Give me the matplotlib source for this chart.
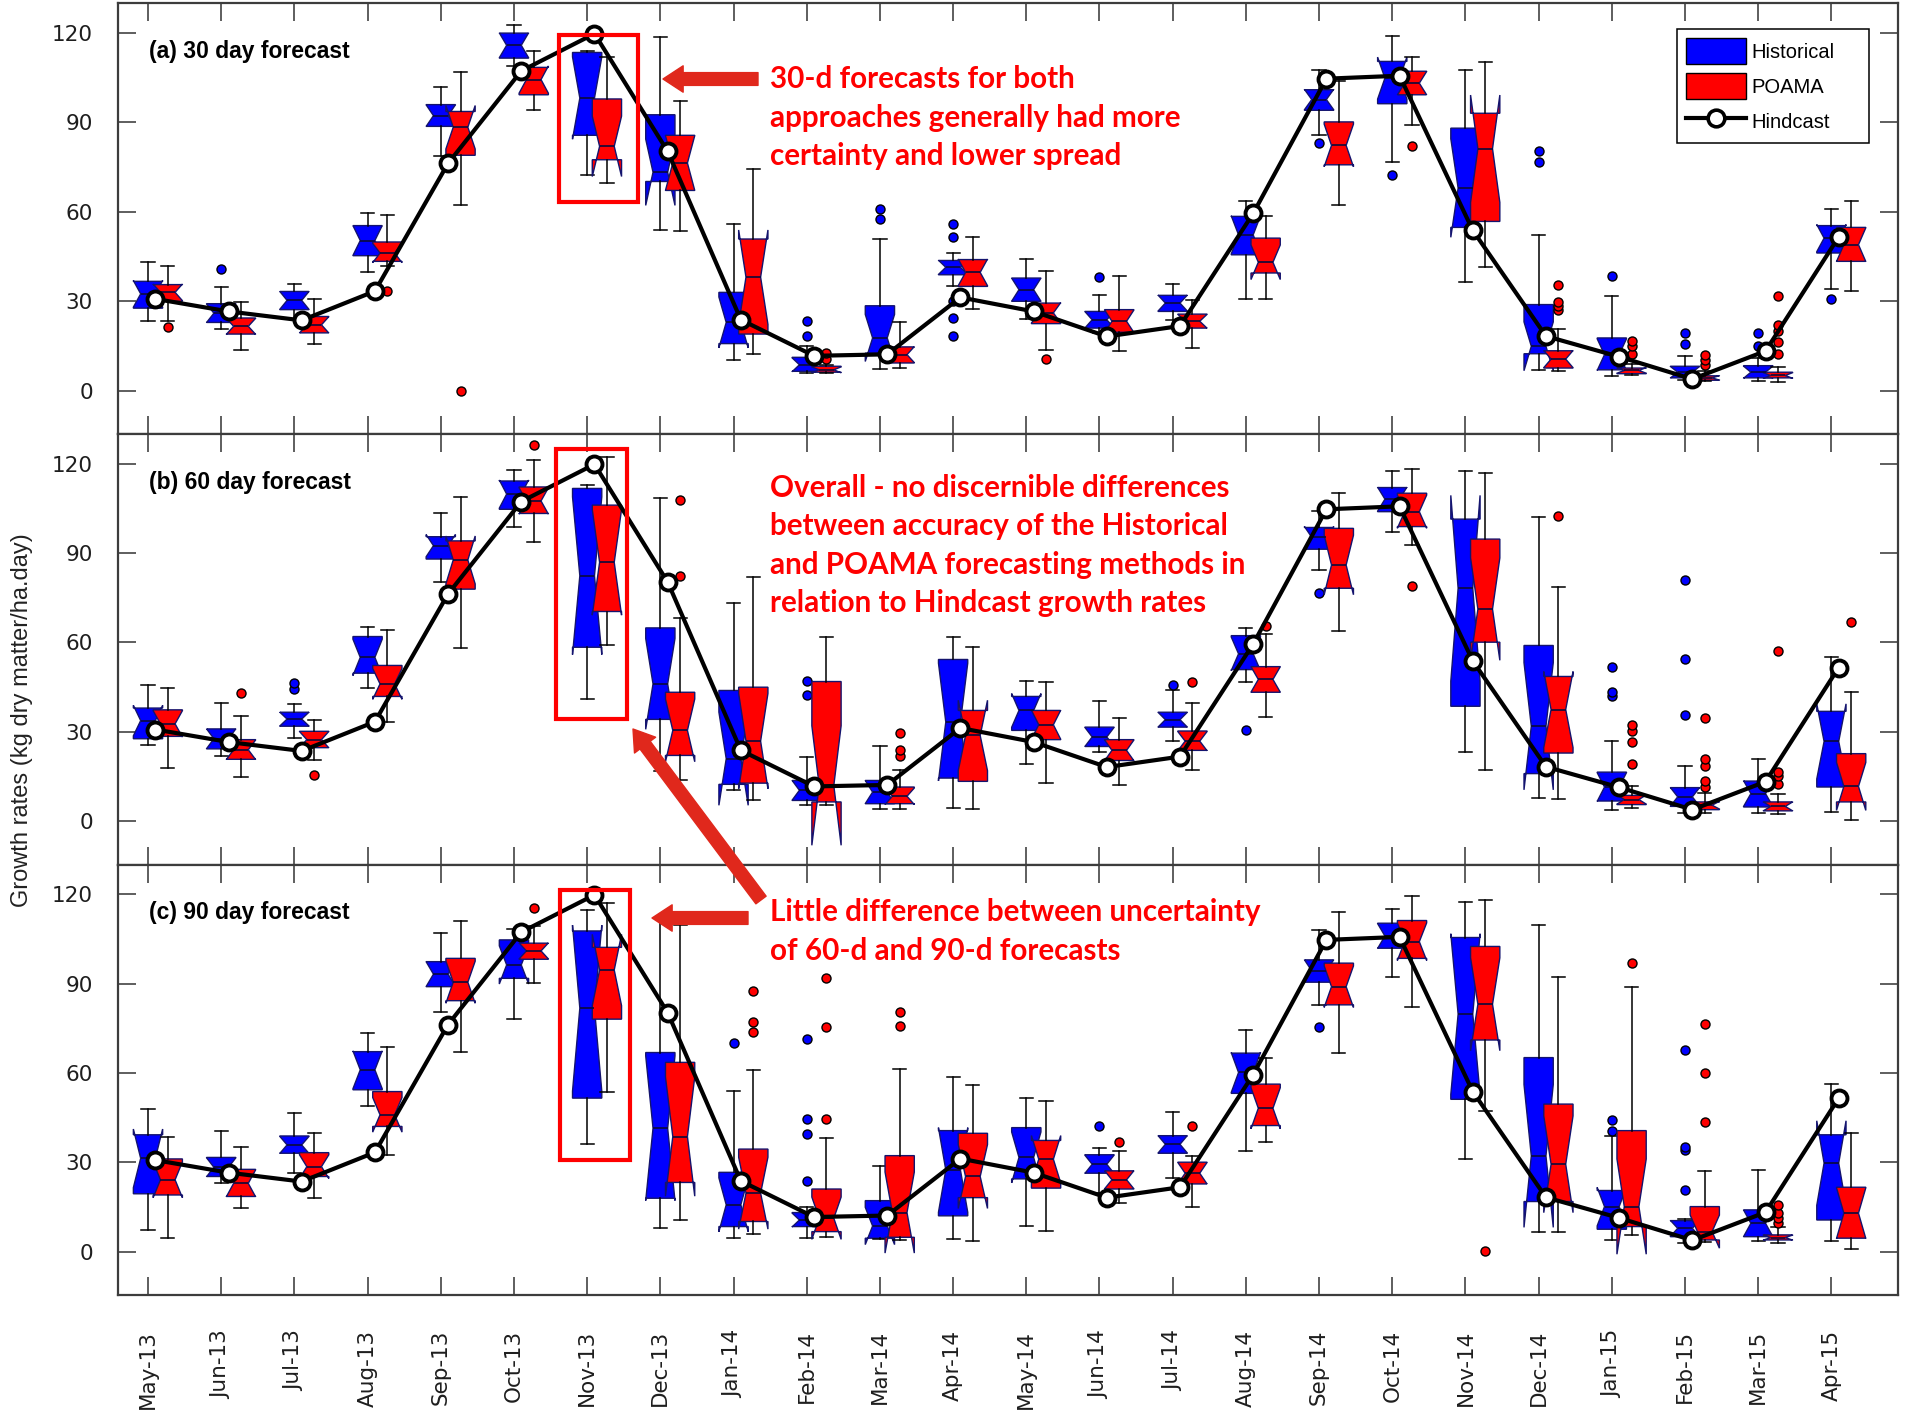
import numpy as np
import matplotlib
matplotlib.use("Agg")
import matplotlib.pyplot as plt
from matplotlib.patches import Patch, Rectangle, FancyArrowPatch
from matplotlib.lines import Line2D

# ---------------------------------------------------------------- data
months = ["May-13", "Jun-13", "Jul-13", "Aug-13", "Sep-13", "Oct-13", "Nov-13",
          "Dec-13", "Jan-14", "Feb-14", "Mar-14", "Apr-14", "May-14", "Jun-14",
          "Jul-14", "Aug-14", "Sep-14", "Oct-14", "Nov-14", "Dec-14", "Jan-15",
          "Feb-15", "Mar-15", "Apr-15"]

hindcast = [30.8, 26.6, 23.6, 33.4, 76.3, 107.3, 119.8, 80.3, 23.8, 11.7, 12.2, 31.3,
            26.6, 18.2, 21.7, 59.5, 104.7, 105.7, 53.8, 18.3, 11.4, 3.9, 13.3, 51.6]

# five-number summaries per month: [lower whisker, Q1, median, Q3, upper whisker]
hist_30 = [[23.3, 27.7, 32.5, 36.7, 43.1], [20.7, 22.9, 26.0, 29.2, 34.7], [24.0, 27.2, 30.3, 33.3, 35.9],
           [39.7, 45.3, 50.4, 55.4, 59.6], [78.9, 88.7, 92.3, 96.0, 101.8], [109.0, 111.6, 115.9, 120.0, 122.6],
           [72.5, 85.7, 98.2, 113.5, 114.0], [54.0, 70.2, 73.3, 92.6, 118.6], [10.4, 15.8, 22.9, 33.0, 56.0],
           [5.9, 6.5, 8.7, 11.2, 14.9], [7.3, 12.6, 17.7, 28.5, 50.9], [35.0, 38.9, 41.4, 43.7, 46.2],
           [24.0, 30.0, 33.9, 37.8, 44.2], [19.4, 21.0, 23.8, 26.6, 32.2], [23.8, 26.6, 29.4, 32.0, 35.8],
           [30.8, 45.6, 52.3, 58.5, 63.5], [85.9, 94.1, 97.7, 101.0, 107.5], [76.6, 96.3, 104.9, 110.5, 119.1],
           [36.5, 54.8, 68.0, 88.1, 107.5], [7.0, 12.4, 14.9, 28.9, 52.3], [4.8, 7.0, 12.1, 17.7, 31.7],
           [3.7, 4.3, 6.2, 8.2, 11.5], [3.1, 4.3, 6.2, 8.4, 11.0], [34.1, 46.2, 51.2, 55.4, 61.1]]
poama_30 = [[23.3, 30.0, 33.0, 35.6, 41.7], [13.5, 19.0, 21.6, 24.4, 29.8], [15.8, 19.4, 22.1, 24.9, 30.8],
            [41.7, 43.4, 46.2, 49.9, 58.8], [62.2, 79.0, 88.4, 93.7, 107.0], [94.3, 99.3, 104.4, 108.5, 113.9],
            [69.7, 77.5, 82.0, 97.9, 111.9], [53.5, 67.2, 76.4, 85.7, 97.1], [12.4, 19.0, 38.1, 50.9, 74.5],
            [6.0, 6.2, 7.0, 8.2, 8.6], [7.6, 9.3, 12.1, 14.7, 22.9], [27.4, 35.0, 39.7, 44.0, 51.5],
            [13.8, 22.5, 26.1, 29.4, 40.3], [13.2, 19.6, 23.3, 27.2, 38.4], [14.3, 21.0, 23.3, 25.7, 30.5],
            [30.9, 39.5, 43.1, 51.2, 58.5], [62.2, 75.8, 82.3, 90.2, 104.0], [89.0, 99.3, 103.2, 107.2, 111.9],
            [41.5, 56.8, 81.2, 93.1, 110.2], [6.5, 7.6, 10.6, 13.4, 20.8], [5.4, 5.7, 6.8, 7.6, 9.0],
            [3.3, 3.5, 4.3, 5.0, 6.5], [2.8, 4.3, 5.1, 6.2, 7.9], [33.3, 43.4, 49.0, 54.8, 63.5]]

hist_60 = [[25.5, 27.7, 33.8, 38.0, 45.6], [21.8, 24.3, 27.7, 31.0, 39.8], [28.0, 31.9, 34.3, 36.6, 39.4],
           [44.8, 49.7, 55.0, 62.0, 65.3], [80.2, 88.0, 92.5, 95.5, 103.4], [98.8, 104.7, 109.8, 114.2, 117.8],
           [41.1, 58.4, 82.4, 111.7, 113.0], [16.9, 34.2, 46.1, 64.9, 108.4], [10.4, 12.4, 21.0, 43.9, 73.3],
           [5.4, 7.0, 10.4, 13.7, 21.6], [4.2, 5.9, 9.8, 13.7, 25.1], [4.5, 14.5, 33.3, 54.3, 61.8],
           [19.3, 30.5, 37.2, 41.9, 47.0], [23.2, 25.1, 28.3, 31.6, 40.5], [27.1, 31.6, 34.1, 36.6, 43.9],
           [46.7, 50.9, 56.2, 62.3, 65.0], [84.3, 91.3, 95.3, 98.6, 104.0], [97.2, 103.9, 108.1, 112.0, 117.6],
           [23.2, 38.6, 78.2, 101.4, 117.6], [7.9, 16.0, 31.9, 59.0, 102.0], [3.9, 6.8, 11.5, 16.5, 26.9],
           [2.8, 5.0, 8.2, 11.3, 18.4], [2.9, 4.8, 9.3, 13.5, 20.8], [3.1, 11.5, 26.8, 36.9, 55.3]]
poama_60 = [[18.0, 28.5, 32.7, 37.4, 44.7], [14.9, 20.8, 24.0, 27.4, 35.3], [20.7, 24.7, 27.4, 30.2, 34.1],
            [33.3, 41.9, 46.1, 52.3, 64.2], [58.2, 77.9, 87.7, 94.1, 108.7], [93.8, 103.3, 107.5, 112.2, 121.3],
            [59.3, 70.4, 86.9, 106.1, 122.3], [13.7, 22.1, 30.5, 43.3, 68.1], [7.0, 12.8, 26.9, 45.0, 82.1],
            [5.4, 6.5, 12.0, 46.9, 61.8], [4.2, 5.9, 8.4, 11.5, 17.1], [4.2, 13.4, 28.8, 37.2, 58.6],
            [12.8, 27.4, 32.4, 37.2, 46.9], [12.1, 20.4, 23.8, 27.4, 34.6], [17.1, 23.8, 26.9, 30.3, 39.6],
            [35.0, 43.3, 47.6, 51.9, 62.9], [63.8, 78.2, 86.0, 98.3, 110.3], [92.8, 98.9, 103.9, 110.1, 118.1],
            [17.3, 60.1, 71.2, 94.7, 117.0], [7.6, 22.9, 37.5, 48.6, 78.5], [4.6, 5.6, 7.3, 8.7, 11.7],
            [2.8, 3.9, 5.4, 6.5, 9.5], [2.6, 3.5, 5.0, 6.5, 9.0], [0.6, 6.5, 11.7, 22.7, 43.3]]

hist_90 = [[7.2, 19.5, 31.4, 39.3, 48.0], [23.0, 25.3, 28.4, 31.7, 40.7], [26.4, 33.1, 35.9, 38.9, 46.5],
           [48.8, 54.4, 61.1, 67.2, 73.4], [80.6, 89.0, 93.2, 97.4, 106.9], [78.1, 91.8, 96.3, 104.7, 108.4],
           [36.2, 51.6, 81.8, 107.7, 114.8], [7.9, 18.0, 41.5, 66.9, 112.0], [4.8, 8.5, 15.8, 26.7, 54.1],
           [4.8, 8.5, 10.7, 13.2, 15.2], [4.3, 4.6, 8.7, 17.2, 28.9], [4.3, 12.1, 27.5, 40.7, 58.6],
           [8.7, 24.5, 31.7, 41.7, 51.6], [19.7, 26.4, 29.4, 32.6, 35.0], [24.7, 33.1, 36.1, 39.0, 46.8],
           [33.7, 53.2, 60.2, 66.7, 74.5], [82.9, 90.5, 94.3, 98.0, 108.0], [92.1, 101.9, 106.0, 110.3, 115.0],
           [31.2, 51.2, 79.8, 105.5, 117.3], [6.8, 16.9, 32.2, 65.2, 109.7], [4.0, 7.6, 15.2, 20.6, 38.9],
           [3.1, 5.1, 7.9, 10.5, 11.0], [3.5, 5.1, 9.6, 14.1, 27.5], [3.5, 10.7, 29.8, 39.3, 56.3]]
poama_90 = [[4.6, 19.1, 24.2, 31.2, 38.4], [14.7, 18.6, 23.0, 27.7, 35.1], [18.0, 25.3, 28.6, 33.3, 39.8],
            [32.6, 42.1, 46.0, 53.8, 68.9], [67.2, 84.3, 90.5, 98.5, 111.1], [90.4, 98.2, 101.0, 103.6, 109.2],
            [53.5, 78.1, 94.6, 102.2, 117.0], [10.7, 23.3, 38.7, 63.6, 109.7], [6.0, 10.2, 19.7, 34.5, 60.9],
            [5.1, 6.8, 11.3, 21.1, 38.1], [4.0, 4.9, 13.2, 32.3, 61.4], [3.7, 18.2, 25.3, 39.8, 56.0],
            [7.0, 21.4, 31.1, 37.4, 50.7], [16.3, 21.1, 24.2, 27.2, 34.0], [15.2, 22.8, 26.4, 30.1, 32.2],
            [37.0, 42.4, 48.2, 56.3, 65.2], [66.9, 82.9, 89.0, 96.9, 113.9], [82.3, 98.5, 104.1, 111.2, 119.5],
            [47.4, 71.1, 83.1, 102.5, 118.1], [6.6, 16.9, 29.4, 49.6, 92.4], [5.7, 8.5, 15.2, 40.7, 89.0],
            [3.4, 4.0, 6.8, 15.2, 27.2], [2.9, 4.0, 4.8, 5.7, 8.5], [0.9, 4.6, 13.0, 21.7, 40.0]]

# outlying values, keyed by month
hist_30_out = {"Jun-13": [40.8], "Feb-14": [18.5, 23.3], "Mar-14": [57.7, 61.0],
               "Apr-14": [51.6, 56.0, 30.0, 24.4, 18.5], "Jun-14": [38.0], "Sep-14": [83.1],
               "Oct-14": [72.5], "Dec-14": [76.7, 80.5], "Jan-15": [38.4], "Feb-15": [15.8, 19.4],
               "Mar-15": [14.9, 19.4], "Apr-15": [30.8]}
poama_30_out = {"May-13": [21.4], "Aug-13": [33.3], "Sep-13": [0.0], "Feb-14": [10.6, 12.6],
                "May-14": [10.6], "Oct-14": [82.0], "Dec-14": [27.0, 28.3, 29.8, 35.3],
                "Jan-15": [12.3, 14.9, 16.6], "Feb-15": [8.7, 10.4, 12.1],
                "Mar-15": [12.3, 16.2, 20.1, 22.1, 31.7]}
hist_60_out = {"Jul-13": [44.4, 46.3], "Feb-14": [42.5, 47.2], "Jul-14": [45.6], "Aug-14": [30.7],
               "Sep-14": [76.6], "Jan-15": [41.9, 43.3, 51.9], "Feb-15": [35.8, 54.5, 81.0]}
poama_60_out = {"Jun-13": [43.1], "Jul-13": [15.7], "Oct-13": [126.3], "Dec-13": [82.4, 107.9],
                "Mar-14": [21.8, 24.0, 29.6], "Jul-14": [46.7], "Aug-14": [65.7], "Oct-14": [78.8],
                "Dec-14": [102.5], "Jan-15": [19.3, 26.6, 30.2, 32.4],
                "Feb-15": [11.5, 13.4, 18.5, 21.0, 34.6], "Mar-15": [12.4, 15.1, 16.5, 57.0],
                "Apr-15": [67.0]}
hist_90_out = {"Jan-14": [70.2], "Feb-14": [23.9, 39.5, 44.5, 71.4], "Jun-14": [42.4],
               "Sep-14": [75.6], "Jan-15": [40.7, 44.1], "Feb-15": [20.8, 34.2, 35.3, 67.6]}
poama_90_out = {"Oct-13": [115.3], "Jan-14": [73.9, 77.3, 87.6], "Feb-14": [44.6, 75.6, 91.8],
                "Mar-14": [75.8, 80.6], "Jun-14": [37.0], "Jul-14": [42.3], "Nov-14": [0.3],
                "Jan-15": [96.9], "Feb-15": [43.5, 60.0, 76.4], "Mar-15": [9.6, 11.3, 13.2, 15.8]}

panel_titles = ["(a) 30 day forecast", "(b) 60 day forecast", "(c) 90 day forecast"]
series_names = ["Historical", "POAMA", "Hindcast"]
ENSEMBLE_SIZE = 10  # members behind each box; sets notch half-width 1.57*IQR/sqrt(n)

notes = [
    ["30-d forecasts for both", "approaches generally had more", "certainty and lower spread"],
    ["Overall - no discernible differences", "between accuracy of the Historical",
     "and POAMA forecasting methods in", "relation to Hindcast growth rates"],
    ["Little difference between uncertainty", "of 60-d and 90-d forecasts"],
]

# ---------------------------------------------------------------- style
BLUE, RED = "#0000FF", "#FF0000"
NOTE_RED = "#FF0000"
ARROW_RED = "#E0281C"
EDGE = "#14146e"
SPINE = "#3c3c3c"
TICKTXT = "#1e1e1e"

W, H = 1905, 1414
fig = plt.figure(figsize=(W / 100, H / 100), dpi=100)
fig.patch.set_facecolor("white")

left, width = 118 / W, 1780 / W
ph = 430.6 / H
bottoms = [1 - (3.3 + ph * H) / H, 1 - (3.3 + 2 * ph * H) / H, 1 - (3.3 + 3 * ph * H) / H]


def to_stats(summary, outliers):
    stats = []
    for m, (lo, q1, med, q3, hi) in zip(months, summary):
        half = 1.57 * (q3 - q1) / np.sqrt(ENSEMBLE_SIZE)
        stats.append(dict(whislo=lo, q1=q1, med=med, q3=q3, whishi=hi,
                          cilo=med - half, cihi=med + half,
                          fliers=outliers.get(m, [])))
    return stats


x = np.arange(1, len(months) + 1)
panels = [(hist_30, poama_30, hist_30_out, poama_30_out),
          (hist_60, poama_60, hist_60_out, poama_60_out),
          (hist_90, poama_90, hist_90_out, poama_90_out)]

axes = []
for k, (hs, ps, ho, po) in enumerate(panels):
    ax = fig.add_axes([left, bottoms[k], width, ph])
    axes.append(ax)
    for summ, outl, col, shift in ((hs, ho, BLUE, 0.0), (ps, po, RED, 0.27)):
        ax.bxp(to_stats(summ, outl), positions=x + shift, widths=0.4, capwidths=0.18,
               shownotches=True, patch_artist=True, manage_ticks=False,
               boxprops=dict(facecolor=col, edgecolor=EDGE, linewidth=1.0),
               medianprops=dict(color="#0a0a3c", linewidth=1.2),
               whiskerprops=dict(color="black", linewidth=1.1),
               capprops=dict(color="black", linewidth=1.1),
               flierprops=dict(marker="o", markerfacecolor=col, markeredgecolor="black",
                               markersize=6.5, markeredgewidth=1.0))
    ax.plot(x + 0.1, hindcast, "-o", color="black", lw=3.0, ms=11.5,
            mfc="white", mec="black", mew=2.8, zorder=6)

    ax.set_xlim(0.59, 24.91)
    ax.set_ylim(-14.5, 130)
    ax.set_xticks(x)
    ax.set_yticks([0, 30, 60, 90, 120])
    ax.tick_params(axis="both", direction="in", length=13, width=1.1, color="#333333",
                   top=True, right=True, labelsize=15.5, labelcolor=TICKTXT)
    ax.tick_params(axis="y", pad=18)
    ax.tick_params(axis="x", pad=25)
    for lab in ax.get_yticklabels():
        lab.set_family("DejaVu Sans")
    if k < 2:
        ax.tick_params(axis="x", labelbottom=False)
    else:
        ax.set_xticklabels(months, rotation=90, va="top", ha="center", family="DejaVu Sans")
    for s in ax.spines.values():
        s.set_color(SPINE)
        s.set_linewidth(1.6)
    ax.text(0.0174, 0.888, panel_titles[k], transform=ax.transAxes, fontsize=16.5,
            fontweight="bold", family=["Liberation Sans Narrow", "Liberation Sans"],
            va="center", ha="left", zorder=8)

# legend in the top panel
handles = [Patch(facecolor=BLUE, edgecolor="black", linewidth=1.0),
           Patch(facecolor=RED, edgecolor="black", linewidth=1.0),
           Line2D([], [], color="black", lw=3.0, marker="o", ms=12, mfc="white",
                  mec="black", mew=2.6)]
leg = axes[0].legend(handles, series_names, loc="upper right",
                     bbox_to_anchor=(0.8758, 0.5, 0.1079, 0.44), mode="expand",
                     prop={"family": "Liberation Sans", "size": 14.5}, frameon=True,
                     fancybox=False, edgecolor="black", framealpha=1, handlelength=3.0,
                     handleheight=1.6, labelspacing=0.45, borderpad=0.45,
                     handletextpad=0.25, borderaxespad=0)
leg.get_frame().set_linewidth(1.1)
leg.set_zorder(10)

# highlight boxes around November 2013
for ax, (x0, x1, y0, y1) in zip(axes, [(6.62, 7.70, 63.4, 119.4),
                                       (6.58, 7.54, 34.3, 124.8),
                                       (6.63, 7.58, 30.8, 121.4)]):
    ax.add_patch(Rectangle((x0, y0), x1 - x0, y1 - y0, fill=False, edgecolor=RED,
                           linewidth=3.0, zorder=7, clip_on=False))

# notes and arrows (positions in figure pixels)
note_starts = [79, 487.5, 912.5]
for lines, y0 in zip(notes, note_starts):
    for i, line in enumerate(lines):
        fig.text(770 / W, 1 - (y0 + 38.6 * i) / H, line, color=NOTE_RED, fontsize=21.3,
                 fontweight="bold", family="Lato", va="center", ha="left")

arrow_style = "simple,head_length=1.45,head_width=1.9,tail_width=0.92"
for tail, head in [((758, H - 79), (663, H - 79)),
                   ((761, H - 900), (633, H - 729)),
                   ((748, H - 918), (652, H - 918))]:
    fig.add_artist(FancyArrowPatch(
        posA=tail, posB=head, arrowstyle=arrow_style, mutation_scale=10,
        color=ARROW_RED, shrinkA=0, shrinkB=0, transform=None, zorder=9))

fig.text(22 / W, 1 - 720 / H, "Growth rates (kg dry matter/ha.day)", rotation=90,
         va="center", ha="center", fontsize=17,
         family=["Liberation Sans Narrow", "Liberation Sans"], color="#222222")

fig.savefig("out.png", dpi=100, facecolor="white")
